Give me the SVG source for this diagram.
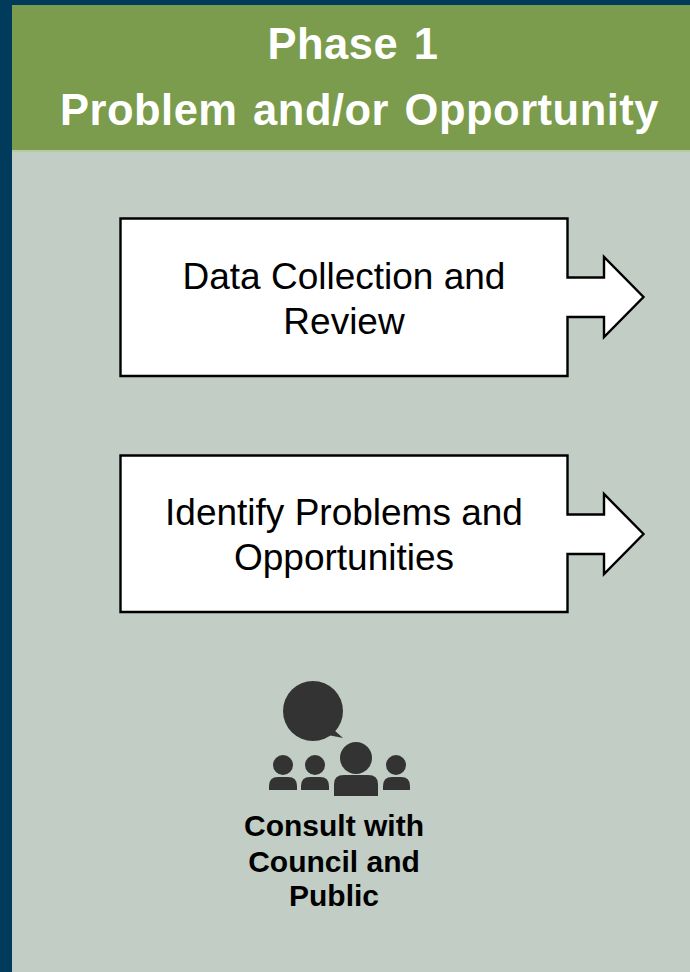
<svg xmlns="http://www.w3.org/2000/svg" width="690" height="972" viewBox="0 0 690 972">
<style>
text{font-family:"Liberation Sans",Arial,sans-serif;text-anchor:middle}
.h{font-size:43.500px;font-weight:700;fill:#fff;letter-spacing:.5px;word-spacing:3px}
.b{font-size:37px;fill:#000}
.c{font-size:30px;font-weight:700;fill:#000}
.box{fill:#fff;stroke:#000;stroke-width:2.4;stroke-linejoin:miter}
.i{fill:#333}
</style>
<rect width="690" height="972" fill="#003b5c"/>
<rect x="12" y="151" width="678" height="821" fill="#c1cdc5"/>
<rect x="12" y="150" width="678" height="2" fill="#b5c9a5"/>
<g id="header">
<rect x="12" y="5" width="678" height="145" fill="#7a9c4c"/>
<text class="h" x="353" y="59">Phase 1</text>
<text class="h" x="359.500" y="124.500">Problem and/or Opportunity</text>
</g>
<g id="node-data">
<path class="box" d="M120.500 218.500H567.500V277.500H604V257L643.500 297L604 337V317H567.500V376H120.500Z"/>
<text class="b" x="344" y="288.500">Data Collection and</text>
<text class="b" x="344" y="333.500">Review</text>
</g>
<g id="node-identify">
<path class="box" d="M120.500 455.500H567.500V514.500H604V494L643.500 534L604 574V554H567.500V612H120.500Z"/>
<text class="b" x="344" y="524.500">Identify Problems and</text>
<text class="b" x="344" y="569.500">Opportunities</text>
</g>
<g id="node-consult">
<circle class="i" cx="313" cy="711" r="30"/>
<path class="i" d="M334 730L343 738L328 735Z"/>
<circle class="i" cx="283" cy="765" r="10"/>
<path class="i" d="M269 790V786Q269 777 278 777H288Q297 777 297 786V790Z"/>
<circle class="i" cx="315" cy="765" r="10"/>
<path class="i" d="M301 790V786Q301 777 310 777H320Q329 777 329 786V790Z"/>
<circle class="i" cx="356" cy="758" r="16"/>
<path class="i" d="M334 796V784Q334 775 344 775H368Q378 775 378 784V796Z"/>
<circle class="i" cx="396" cy="765" r="10"/>
<path class="i" d="M383 790V786Q383 777 392 777H401Q410 777 410 786V790Z"/>
<text class="c" x="334" y="836">Consult with</text>
<text class="c" x="334" y="871.500">Council and</text>
<text class="c" x="334" y="905.500">Public</text>
</g>
<g id="connectors"/>
</svg>
